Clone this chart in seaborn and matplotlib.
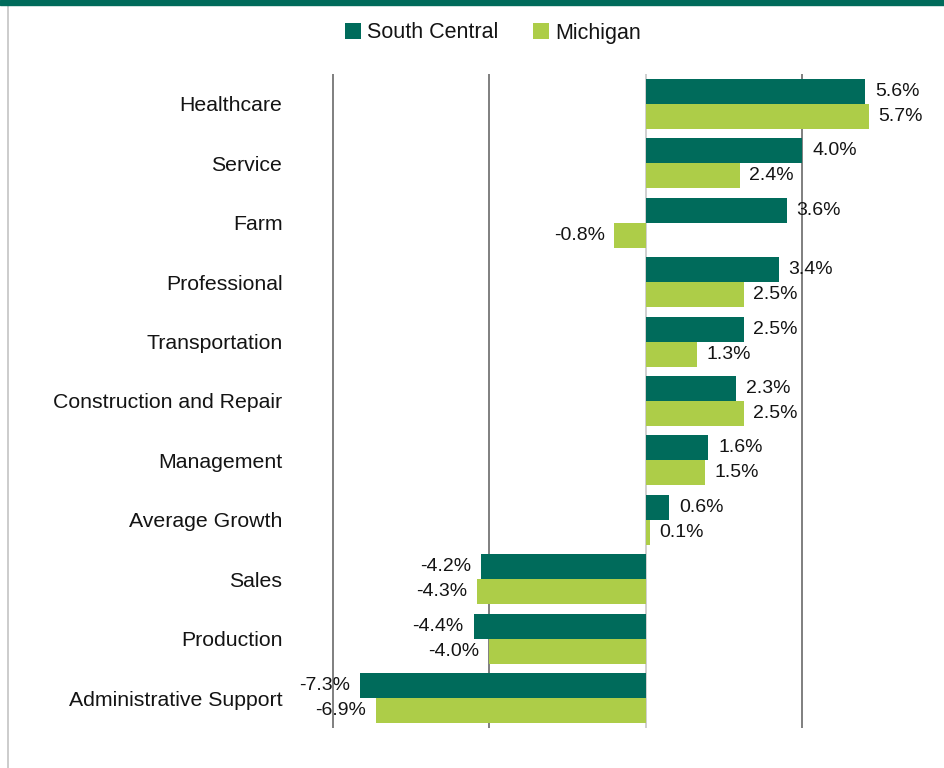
import numpy as np
import pandas as pd
import matplotlib
matplotlib.use("Agg")
import matplotlib.pyplot as plt
from matplotlib.lines import Line2D
from matplotlib.patches import Rectangle
import seaborn as sns

# data
categories = ["Healthcare", "Service", "Farm", "Professional", "Transportation",
              "Construction and Repair", "Management", "Average Growth",
              "Sales", "Production", "Administrative Support"]
south_central = [5.6, 4.0, 3.6, 3.4, 2.5, 2.3, 1.6, 0.6, -4.2, -4.4, -7.3]
michigan = [5.7, 2.4, -0.8, 2.5, 1.3, 2.5, 1.5, 0.1, -4.3, -4.0, -6.9]
series = ["South Central", "Michigan"]

dark_green = "#006b5b"
light_green = "#adcd48"
text_col = "#141414"

df = pd.DataFrame({
    "category": categories * 2,
    "value": south_central + michigan,
    "region": [series[0]] * len(categories) + [series[1]] * len(categories),
})

sns.set_style("white")
plt.rcParams["font.family"] = ["Liberation Sans", "DejaVu Sans"]

fig = plt.figure(figsize=(9.45, 7.68), dpi=100)
ax = fig.add_axes([331 / 945, 1 - 727.7 / 768, 628 / 945, (727.7 - 74.3) / 768])

sns.barplot(data=df, y="category", x="value", hue="region", orient="h",
            palette=[dark_green, light_green], saturation=1, width=0.84,
            order=categories, hue_order=series, linewidth=0, ax=ax)

ax.set_xlim(-8.04, 8)
ax.set_xticks([-8, -4, 4, 8])
ax.set_xticklabels([])
ax.grid(axis="x", color="#7f7f7f", linewidth=1.4)
ax.grid(axis="y", visible=False)
ax.axvline(0, color="#cfcfcf", linewidth=1.4, zorder=0.5)
ax.set_axisbelow(True)
ax.tick_params(axis="both", length=0)
ax.tick_params(axis="y", pad=35, labelsize=15.3, labelcolor=text_col)
ax.set_xlabel("")
ax.set_ylabel("")
for s in ax.spines.values():
    s.set_visible(False)

for cont in ax.containers:
    ax.bar_label(cont, labels=[f"{v:.1f}%" for v in cont.datavalues],
                 padding=7, fontsize=14, color=text_col)

sns.move_legend(ax, "center", bbox_to_anchor=(493 / 945, 1 - 33 / 768),
                bbox_transform=fig.transFigure, ncol=2, frameon=False,
                title=None, fontsize=15.5, handlelength=0.75, handleheight=0.75,
                handletextpad=0.3, columnspacing=1.6)
for t in ax.get_legend().get_texts():
    t.set_color(text_col)

# page decoration: top band and left rule
fig.add_artist(Rectangle((0, 1 - 5 / 768), 1, 5 / 768, transform=fig.transFigure,
                         color=dark_green, zorder=10))
fig.add_artist(Line2D([8 / 945, 8 / 945], [0, 1 - 5 / 768], transform=fig.transFigure,
                      color="#c4c4c4", linewidth=1.2))

fig.savefig("out.png", dpi=100)
